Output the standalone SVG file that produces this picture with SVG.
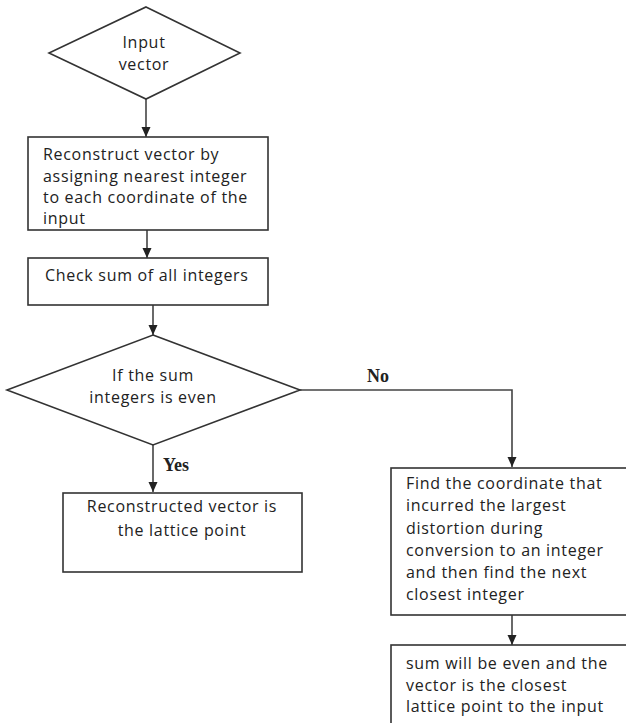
<svg xmlns="http://www.w3.org/2000/svg" width="626" height="723" viewBox="0 0 626 723">
<style>
.shape{fill:#fff;stroke:#333;stroke-width:1.6}
.t{font-family:"Open Sans","Liberation Sans",sans-serif;font-size:16px;letter-spacing:0.7px;fill:#222}
.c{text-anchor:middle}
.lbl{font-family:"Liberation Serif",serif;font-weight:bold;font-size:18px;fill:#222}
.conn{fill:none;stroke:#444;stroke-width:1.6}
</style>
<defs>
<marker id="arr" markerUnits="userSpaceOnUse" markerWidth="10" markerHeight="10" viewBox="0 0 10 10" refX="10" refY="5" orient="auto">
<path d="M0,0.5 L10,5 L0,9.5 Z" fill="#222"/>
</marker>
</defs>
<rect width="626" height="723" fill="#fff"/>
<g id="connectors">
<line class="conn" x1="146" y1="99" x2="146" y2="137" marker-end="url(#arr)"/>
<line class="conn" x1="147" y1="230" x2="147" y2="258" marker-end="url(#arr)"/>
<line class="conn" x1="153" y1="305" x2="153" y2="335" marker-end="url(#arr)"/>
<line class="conn" x1="153" y1="445" x2="153" y2="492" marker-end="url(#arr)"/>
<polyline class="conn" points="300,390 512,390 512,467" marker-end="url(#arr)"/>
<line class="conn" x1="512" y1="615" x2="512" y2="645" marker-end="url(#arr)"/>
<text class="lbl" x="367" y="382">No</text>
<text class="lbl" x="163" y="471">Yes</text>
</g>
<g id="input">
<polygon class="shape" points="146,7 240,53 146,99 49,53"/>
<text class="t c" x="144" y="48">Input</text>
<text class="t c" x="144" y="70">vector</text>
</g>
<g id="reconstruct">
<rect class="shape" x="28" y="137" width="240" height="93"/>
<text class="t" x="43" y="160">Reconstruct vector by</text>
<text class="t" x="43" y="182">assigning nearest integer</text>
<text class="t" x="43" y="203">to each coordinate of the</text>
<text class="t" x="43" y="224">input</text>
</g>
<g id="checksum">
<rect class="shape" x="28" y="258" width="240" height="47"/>
<text class="t" x="45" y="281">Check sum of all integers</text>
</g>
<g id="decision">
<polygon class="shape" points="153,335 300,390 153,445 7,390"/>
<text class="t c" x="153" y="381">If the sum</text>
<text class="t c" x="153" y="403">integers is even</text>
</g>
<g id="lattice">
<rect class="shape" x="63" y="493" width="239" height="79"/>
<text class="t c" x="182" y="512">Reconstructed vector is</text>
<text class="t c" x="182" y="536">the lattice point</text>
</g>
<g id="findcoord">
<rect class="shape" x="391" y="468" width="245" height="147"/>
<text class="t" x="406" y="489">Find the coordinate that</text>
<text class="t" x="406" y="511">incurred the largest</text>
<text class="t" x="406" y="534">distortion during</text>
<text class="t" x="406" y="556">conversion to an integer</text>
<text class="t" x="406" y="578">and then find the next</text>
<text class="t" x="406" y="600">closest integer</text>
</g>
<g id="result">
<rect class="shape" x="391" y="645" width="245" height="90"/>
<text class="t" x="406" y="669">sum will be even and the</text>
<text class="t" x="406" y="691">vector is the closest</text>
<text class="t" x="406" y="712">lattice point to the input</text>
</g>
</svg>
